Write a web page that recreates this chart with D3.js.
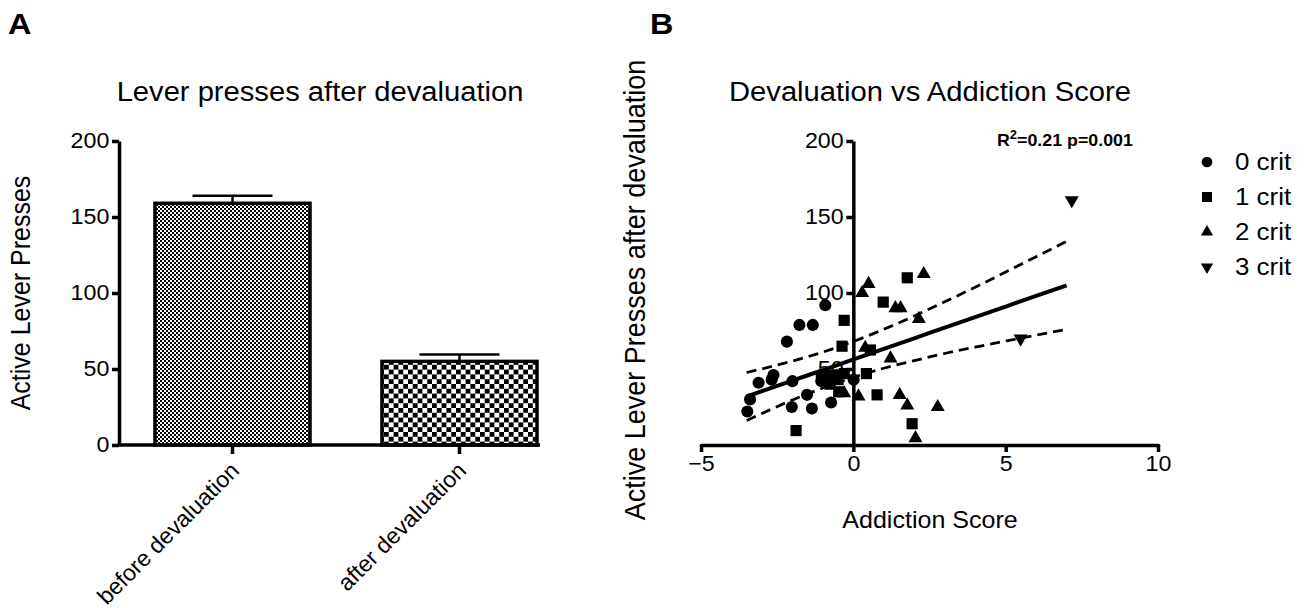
<!DOCTYPE html>
<html>
<head>
<meta charset="utf-8">
<script src="https://cdn.jsdelivr.net/npm/d3@7"></script>
<style>
  body { margin: 0; background: #fff; }
  text { font-family: "Liberation Sans", Arial, Helvetica, sans-serif; }
</style>
</head>
<body>
<svg id="chart" width="1304" height="608"></svg>
<script>
// panel A data
const barCats = ["before devaluation", "after devaluation"];
const barMeans = [159, 55];
const barErr = [5, 4.5];
const barTicks = [0, 50, 100, 150, 200];

// panel B data (addiction score, lever presses) per criteria group
const crit0 = [[-0.92, 92], [-1.77, 79], [-1.33, 79], [-2.18, 68], [-3.11, 41], [-2.62, 46],
  [-2.68, 43], [-2.0, 42], [-3.39, 30], [-3.48, 22], [-1.52, 33], [-2.02, 25], [-1.36, 24],
  [-0.73, 28], [0.01, 43], [-1.05, 42], [-0.55, 46]];
const crit1 = [[1.77, 110], [0.98, 94], [-0.3, 82], [-0.37, 65], [0.56, 62.5], [0.43, 47],
  [0.78, 33], [1.93, 14], [-1.88, 9.5], [-0.87, 46], [-0.76, 40], [-0.48, 35], [-0.3, 47],
  [-0.5, 43], [-1.05, 45]];
const crit2 = [[0.5, 106], [2.31, 112.5], [0.29, 100], [1.38, 90], [1.55, 90], [2.15, 83],
  [0.39, 64], [1.22, 57], [0.17, 32], [1.52, 33], [1.77, 26], [2.77, 25], [2.04, 4.5], [-0.3, 34]];
const crit3 = [[7.17, 161], [5.49, 70]];
const groupNames = ["0 crit", "1 crit", "2 crit", "3 crit"];

// regression fit and 95% band
const fitX = [-3.5, -2, -1, 0, 1, 2, 3, 4, 5, 6, 7];
const fitY = [31.9, 42.4, 49.3, 56.3, 63.3, 70.2, 77.2, 84.1, 91.1, 98.1, 105];
const bandHi = [47.7, 55.2, 61.1, 68.1, 76.1, 84.9, 94.2, 103.8, 113.8, 123.9, 134];
const bandLo = [16.1, 29.6, 37.5, 44.5, 50.5, 55.5, 60.2, 64.4, 68.4, 72.3, 76];
const xTicksB = [-5, 0, 5, 10];
const yTicksB = [50, 100, 150, 200];

const SX = 1.08; // the original lettering is a little wide
const svg = d3.select("#chart");
const defs = svg.append("defs");

// checker patterns for the bars
function checker(id, cell) {
    const p = defs.append("pattern")
        .attr("id", id)
        .attr("patternUnits", "userSpaceOnUse")
        .attr("width", cell * 2)
        .attr("height", cell * 2);
    p.append("rect").attr("width", cell * 2).attr("height", cell * 2).attr("fill", "#fff");
    p.append("rect").attr("width", cell).attr("height", cell).attr("fill", "#000");
    p.append("rect").attr("x", cell).attr("y", cell).attr("width", cell).attr("height", cell).attr("fill", "#000");
}
checker("fine", 2);
checker("coarse", 4.8);
const fills = ["url(#fine)", "url(#coarse)"];

function label(x, y, str, fs, anchor, rot) {
    return svg.append("text")
        .attr("transform", `translate(${x},${y}) scale(${SX},1)` + (rot ? ` rotate(${rot})` : ""))
        .attr("text-anchor", anchor || "start")
        .style("font-size", fs + "px")
        .text(str);
}

function styleAxis(g, fs) {
    g.select(".domain").attr("stroke", "#000").attr("stroke-width", 3.5);
    g.selectAll(".tick line").attr("stroke", "#000").attr("stroke-width", 3.5);
    g.selectAll(".tick text").attr("fill", "#000").style("font-size", fs + "px")
        .style("font-family", "'Liberation Sans', Arial, sans-serif")
        .attr("transform", `scale(${SX},1)`);
}

// ---------- panel A ----------
label(8, 34, "A", 30).style("font-weight", "bold");

const yA = d3.scaleLinear().domain([0, 200]).range([445, 141]);
const xA = d3.scaleBand().domain(barCats).range([119, 573]).paddingInner(0.317).paddingOuter(0.1586);

label(320, 101, "Lever presses after devaluation", 27, "middle");

const gA = svg.append("g");
gA.selectAll("rect.bar").data(barCats).join("rect")
    .attr("class", "bar")
    .attr("x", d => xA(d))
    .attr("y", (d, i) => yA(barMeans[i]))
    .attr("width", xA.bandwidth())
    .attr("height", (d, i) => yA(0) - yA(barMeans[i]))
    .attr("fill", (d, i) => fills[i])
    .attr("stroke", "#000")
    .attr("stroke-width", 3.5);

// error bars
barCats.forEach((c, i) => {
    const cx = xA(c) + xA.bandwidth() / 2;
    gA.append("line").attr("x1", cx).attr("x2", cx)
        .attr("y1", yA(barMeans[i])).attr("y2", yA(barMeans[i] + barErr[i]))
        .attr("stroke", "#000").attr("stroke-width", 2.5);
    gA.append("line").attr("x1", cx - 40).attr("x2", cx + 40)
        .attr("y1", yA(barMeans[i] + barErr[i])).attr("y2", yA(barMeans[i] + barErr[i]))
        .attr("stroke", "#000").attr("stroke-width", 2.5);
});

const axA = svg.append("g").attr("transform", "translate(119,0)")
    .call(d3.axisLeft(yA).tickValues(barTicks).tickSize(7).tickSizeOuter(0).tickPadding(2));
styleAxis(axA, 21.5);

// x axis of panel A
svg.append("line").attr("x1", 117.5).attr("x2", 540).attr("y1", yA(0)).attr("y2", yA(0))
    .attr("stroke", "#000").attr("stroke-width", 3.5);
barCats.forEach(c => {
    const cx = xA(c) + xA.bandwidth() / 2;
    svg.append("line").attr("x1", cx).attr("x2", cx).attr("y1", yA(0)).attr("y2", yA(0) + 9)
        .attr("stroke", "#000").attr("stroke-width", 3.5);
    svg.append("text")
        .attr("transform", `translate(${cx + 8},${yA(0) + 27}) rotate(-45)`)
        .attr("text-anchor", "end")
        .style("font-size", "23px")
        .text(c);
});

label(30, (yA(0) + yA(200)) / 2, "Active Lever Presses", 25, "middle", -90);

// ---------- panel B ----------
label(650, 34, "B", 30).style("font-weight", "bold");

const xB = d3.scaleLinear().domain([-5, 10]).range([701, 1158]);
const yB = d3.scaleLinear().domain([0, 200]).range([445, 141]);

label(930, 101, "Devaluation vs Addiction Score", 27, "middle");

const axBx = svg.append("g").attr("transform", `translate(0,${yB(0)})`)
    .call(d3.axisBottom(xB).tickValues(xTicksB).tickSize(7).tickSizeOuter(0).tickPadding(4).tickFormat(d3.format("d")));
styleAxis(axBx, 21.5);
axBx.select(".domain").attr("stroke-linecap", "round");

const axBy = svg.append("g").attr("transform", `translate(${xB(0)},0)`)
    .call(d3.axisLeft(yB).tickValues(yTicksB).tickSize(7).tickSizeOuter(0).tickPadding(2));
styleAxis(axBy, 21.5);

label(930, 528, "Addiction Score", 23.2, "middle");
label(645, 290, "Active Lever Presses after devaluation", 27, "middle", -90);

// fit and band
const lineGen = d3.line().x(d => xB(d[0])).y(d => yB(d[1])).curve(d3.curveMonotoneX);
const fitPts = fitX.map((x, i) => [x, fitY[i]]);
const hiPts = fitX.map((x, i) => [x, bandHi[i]]);
const loPts = fitX.map((x, i) => [x, bandLo[i]]);
svg.append("path").attr("d", lineGen(fitPts)).attr("fill", "none").attr("stroke", "#000").attr("stroke-width", 4);
[hiPts, loPts].forEach(pts => {
    svg.append("path").attr("d", lineGen(pts)).attr("fill", "none")
        .attr("stroke", "#000").attr("stroke-width", 2.8).attr("stroke-dasharray", "10,6");
});

// points
const groups = [crit0, crit1, crit2, crit3];
const shapes = [d3.symbolCircle, d3.symbolSquare, d3.symbolTriangle, d3.symbolTriangle];
const sizes = [115, 125, 85, 85];
groups.forEach((g, gi) => {
    svg.append("g").selectAll("path").data(g).join("path")
        .attr("d", d3.symbol(shapes[gi], sizes[gi]))
        .attr("transform", d => `translate(${xB(d[0])},${yB(d[1])})` + (gi === 3 ? " rotate(180)" : ""))
        .attr("fill", "#000");
});

// annotation
const ann = label(997, 146, "", 16.5).style("font-weight", "bold");
ann.append("tspan").text("R");
ann.append("tspan").attr("dy", -7).style("font-size", "12px").text("2");
ann.append("tspan").attr("dy", 7).text("=0.21 p=0.001");

// legend
const legY = [162, 197, 232, 267];
const legSizes = [90, 100, 65, 65];
groupNames.forEach((n, i) => {
    svg.append("path")
        .attr("d", d3.symbol(shapes[i], legSizes[i]))
        .attr("transform", `translate(1207,${legY[i]})` + (i === 3 ? " rotate(180)" : ""))
        .attr("fill", "#000");
    label(1235, legY[i] + 8, n, 24);
});
</script>
</body>
</html>
